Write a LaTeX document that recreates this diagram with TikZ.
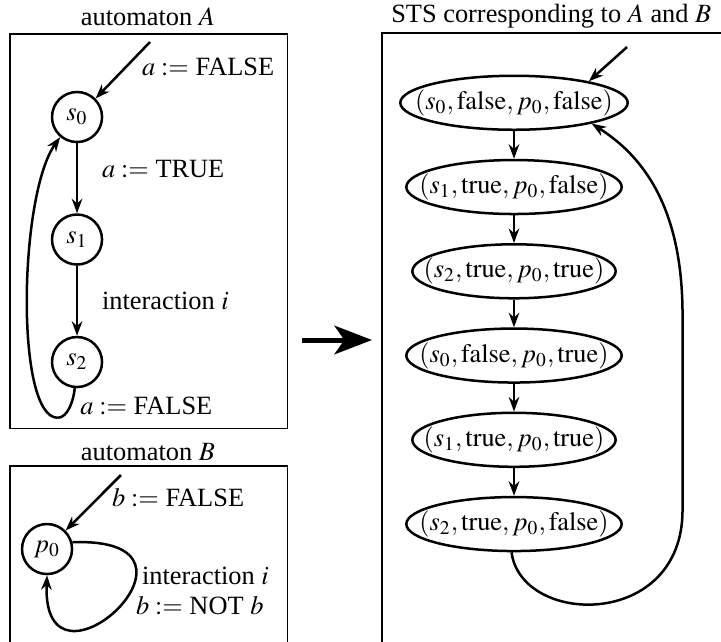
\documentclass[tikz,border=0pt]{standalone}
\usepackage{mathptmx}
\usepackage{fontspec}
\setmainfont{Liberation Serif}
\usetikzlibrary{shapes, arrows.meta, positioning}

\tikzset{
    state/.style={draw, circle, minimum size=0.667cm, inner sep=0pt},
    sts/.style={draw, ellipse, inner xsep=-7pt, inner ysep=0pt, minimum height=0.72cm},
    frame/.style={draw, thin}
}

\begin{document}
\begin{tikzpicture}[>={Stealth[length=5.5pt, width=4pt, inset=1.8pt]}, line width=0.95pt]
    \useasboundingbox (0,0) rectangle (9.613,-8.547);

    % automaton A
    \node (titleA) at (1.973,-0.227) {automaton $A$};
    \draw[frame] (0.133,-0.453) rectangle (3.827,-5.707);

    \node[state] (s0) at (1.027,-1.56) {$s_0$};
    \node[state, below=0.933cm of s0] (s1) {$s_1$};
    \node[state, below=0.933cm of s1] (s2) {$s_2$};
    \coordinate (initA) at (2.0,-0.56);
    \coordinate (loopA) at (0.77,-5.57);

    \draw[->] (initA) -- (s0.45) node[pos=0.44, right=0.08cm] {$a :=$ FALSE};
    \draw[->] (s0) -- (s1) node[pos=0.37, right=0.2cm] {$a :=$ TRUE};
    \draw[->] (s1) -- (s2) node[midway, right=0.2cm] {interaction $i$};
    \draw (s2.-95) .. controls (0.98,-5.35) and (0.9,-5.57) .. (loopA) node[pos=0.45, right] {$a :=$ FALSE};
    \draw[->] (loopA) .. controls (0.2,-5.57) and (0.25,-2.6) .. (s0.-130);

    % automaton B
    \node (titleB) at (1.973,-6.027) {automaton $B$};
    \draw[frame] (0.133,-6.213) rectangle (3.827,-9);

    \node[state] (p0) at (0.627,-7.32) {$p_0$};
    \coordinate (initB) at (1.613,-6.333);

    \draw[->] (initB) -- (p0.45) node[pos=0.41, right=0.05cm] {$b :=$ FALSE};
    \draw[->] (p0.15) .. controls (3.1,-7.15) and (0.55,-9.5) .. (p0.-90);
    \node[anchor=west] (loopBi) at (1.76,-7.68) {interaction $i$};
    \node[anchor=west] (loopBb) at (1.68,-8.08) {$b :=$ NOT $b$};

    % A x B
    \coordinate (bigfrom) at (4.027,-4.533);
    \coordinate (bigto) at (4.96,-4.533);
    \draw[line width=1.9pt, -{Stealth[length=0.5cm, width=0.38cm, inset=0.13cm]}] (bigfrom) -- (bigto);

    % STS
    \node (titleS) at (7.35,-0.213) {STS corresponding to $A$ and $B$};
    \draw[frame] (5.093,-9) -- (5.093,-0.44) -- (10,-0.44);

    \node[sts] (q0) at (6.853,-1.37) {$(s_0, \mathrm{false}, p_0, \mathrm{false})$};
    \node[sts, below=0.37cm of q0] (q1) {$(s_1, \mathrm{true}, p_0, \mathrm{false})$};
    \node[sts, below=0.37cm of q1] (q2) {$(s_2, \mathrm{true}, p_0, \mathrm{true})$};
    \node[sts, below=0.37cm of q2] (q3) {$(s_0, \mathrm{false}, p_0, \mathrm{true})$};
    \node[sts, below=0.37cm of q3] (q4) {$(s_1, \mathrm{true}, p_0, \mathrm{true})$};
    \node[sts, below=0.37cm of q4] (q5) {$(s_2, \mathrm{true}, p_0, \mathrm{false})$};
    \coordinate (initS) at (8.36,-0.627);

    \draw[->] (initS) -- (q0.16);
    \draw[->] (q0) -- (q1);
    \draw[->] (q1) -- (q2);
    \draw[->] (q2) -- (q3);
    \draw[->] (q3) -- (q4);
    \draw[->] (q4) -- (q5);
    \draw[->] (q5.-95) .. controls (6.95,-8.35) and (9.1,-8.4) .. (9.1,-6.8) -- (9.1,-4.2)
        .. controls (9.1,-2.8) and (8.6,-2.1) .. (q0.-15);

\end{tikzpicture}
\end{document}
